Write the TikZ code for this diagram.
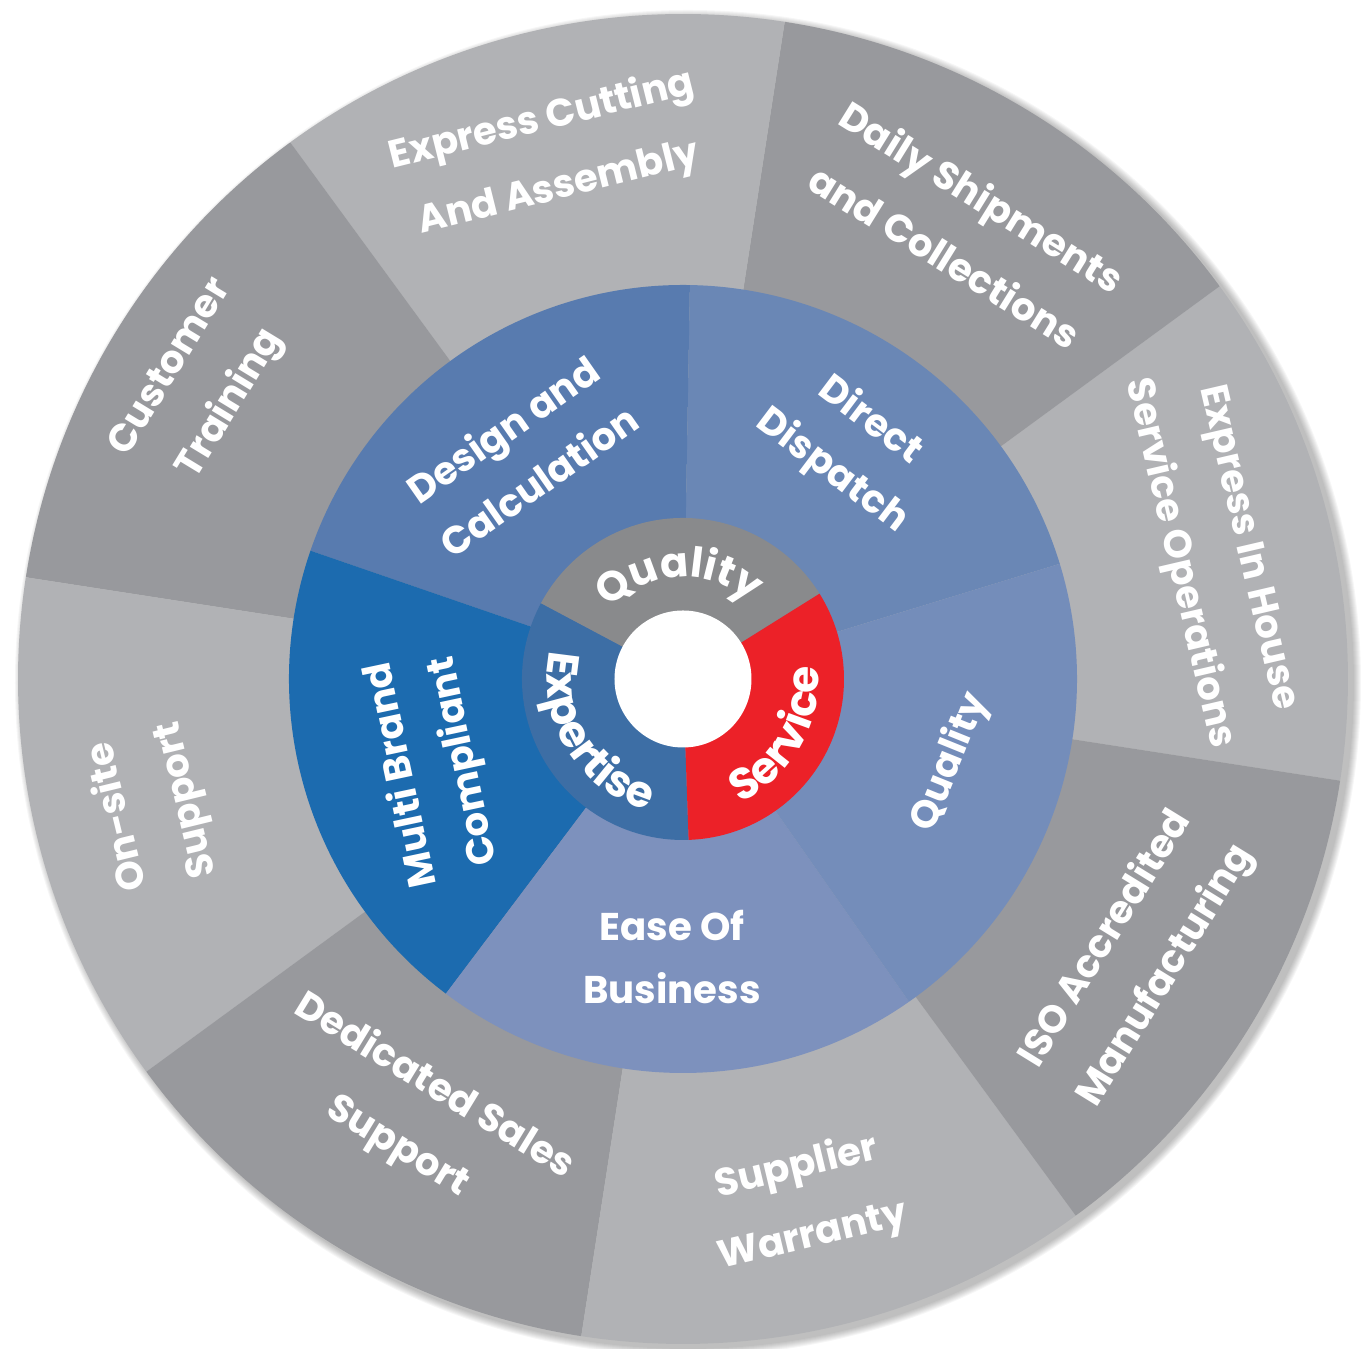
\documentclass[tikz,border=0pt]{standalone}
\usepackage{fontspec}
\setmainfont{Poppins}
\usepackage{xcolor}
\usepackage{tikz}
\usetikzlibrary{calc, decorations.text}

\definecolor{greyLight}{HTML}{B1B2B5}
\definecolor{greyDark}{HTML}{98999D}
\definecolor{blueDesign}{HTML}{587BAF}
\definecolor{blueDirect}{HTML}{6A87B5}
\definecolor{blueQuality}{HTML}{748DBA}
\definecolor{blueEase}{HTML}{7D91BD}
\definecolor{blueMulti}{HTML}{1C6BAF}
\definecolor{greyCore}{HTML}{898A8C}
\definecolor{redCore}{HTML}{EC2128}
\definecolor{blueCore}{HTML}{3D6EA5}

\newcommand{\corefont}{\bfseries\fontsize{12.5}{15}\selectfont}
\newcommand{\corefonttop}{\bfseries\fontsize{11.8}{15}\selectfont}

\tikzset{
    outerlabel/.style={text=white, align=center, font=\bfseries\fontsize{11}{20}\selectfont},
    midlabel/.style={text=white, align=center, font=\bfseries\fontsize{11}{18}\selectfont},
    corelabel/.style={decorate, decoration={text along path, text align=center, text color=white}}
}

\begin{document}
\begin{tikzpicture}
    % Wheel centre and ring radii
    \coordinate (O) at (0,0);
    \def\rHole{0.685}
    \def\rCore{1.61}
    \def\rMid{3.94}
    \def\rOut{6.65}

    \useasboundingbox (-6.83,-6.70) rectangle (6.85,6.79);

    % Soft shadow below the wheel
    \foreach \i in {1,...,8}
        \fill[black, opacity=0.035] ($(O)+(0.05,-0.04)$) circle[radius=\rOut+0.01*\i];

    % Outer ring (grey)
    \fill[greyLight] (O) -- (-8.8:\rOut) arc[start angle=-8.8, end angle=36.2, radius=\rOut] -- cycle;
    \fill[greyDark] (O) -- (36.2:\rOut) arc[start angle=36.2, end angle=81.2, radius=\rOut] -- cycle;
    \fill[greyLight] (O) -- (81.2:\rOut) arc[start angle=81.2, end angle=126.2, radius=\rOut] -- cycle;
    \fill[greyDark] (O) -- (126.2:\rOut) arc[start angle=126.2, end angle=171.2, radius=\rOut] -- cycle;
    \fill[greyLight] (O) -- (171.2:\rOut) arc[start angle=171.2, end angle=216.2, radius=\rOut] -- cycle;
    \fill[greyDark] (O) -- (216.2:\rOut) arc[start angle=216.2, end angle=261.2, radius=\rOut] -- cycle;
    \fill[greyLight] (O) -- (261.2:\rOut) arc[start angle=261.2, end angle=306.2, radius=\rOut] -- cycle;
    \fill[greyDark] (O) -- (306.2:\rOut) arc[start angle=306.2, end angle=351.2, radius=\rOut] -- cycle;

    % Middle ring (blue)
    \fill[blueDirect] (O) -- (17:\rMid) arc[start angle=17, end angle=89, radius=\rMid] -- cycle;
    \fill[blueDesign] (O) -- (89:\rMid) arc[start angle=89, end angle=161, radius=\rMid] -- cycle;
    \fill[blueMulti] (O) -- (161:\rMid) arc[start angle=161, end angle=233, radius=\rMid] -- cycle;
    \fill[blueEase] (O) -- (233:\rMid) arc[start angle=233, end angle=305, radius=\rMid] -- cycle;
    \fill[blueQuality] (O) -- (305:\rMid) arc[start angle=305, end angle=377, radius=\rMid] -- cycle;

    % Core ring
    \fill[greyCore] (O) -- (32:\rCore) arc[start angle=32, end angle=152, radius=\rCore] -- cycle;
    \fill[blueCore] (O) -- (152:\rCore) arc[start angle=152, end angle=272, radius=\rCore] -- cycle;
    \fill[redCore] (O) -- (272:\rCore) arc[start angle=272, end angle=392, radius=\rCore] -- cycle;

    % Hole
    \fill[white] (O) circle (\rHole);

    % Outer labels
    \node[outerlabel, rotate=14] (cutting) at (104.2:5.41) {Express Cutting\\And Assembly};
    \node[outerlabel, rotate=-31.8] (shipments) at (58.2:5.33) {Daily Shipments\\and Collections};
    \node[outerlabel, rotate=-76.9] (inhouse) at (13.1:5.43) {Express In House\\Service Operations};
    \node[outerlabel, rotate=58.4] (iso) at (-31.6:5.32) {ISO Accredited\\Manufacturing};
    \node[outerlabel, rotate=13.4] (warranty) at (-76.9:5.37) {Supplier\\Warranty};
    \node[outerlabel, rotate=-31.4] (sales) at (238.6:5.13) {Dedicated Sales\\Support};
    \node[outerlabel, rotate=103.7] (onsite) at (193.7:5.46) {On-site\\Support};
    \node[outerlabel, rotate=58.7] (training) at (148.7:5.63) {Customer\\Training};

    % Middle labels
    \node[midlabel, rotate=35] (design) at (126:2.77) {Design and\\Calculation};
    \node[midlabel, rotate=-37] (dispatch) at (54.2:2.87) {Direct\\Dispatch};
    \node[midlabel, rotate=68] (quality) at (-17.3:2.80) {Quality};
    \node[midlabel] (ease) at (267.7:2.78) {Ease Of\\Business};
    \node[midlabel, rotate=102] (multi) at (199.6:2.65) {Multi Brand\\Compliant};

    % Core labels, set along the arcs
    \path[corelabel, decoration={text={|\corefonttop|Quality}}] (150:1.02) arc[start angle=150, end angle=35, radius=1.02];
    \path[corelabel, decoration={text={|\corefont|Expertise}}] (155:1.36) arc[start angle=155, end angle=268, radius=1.36];
    \path[corelabel, decoration={text={|\corefont|Service}}] (-88:1.36) arc[start angle=-88, end angle=28, radius=1.36];
\end{tikzpicture}
\end{document}
